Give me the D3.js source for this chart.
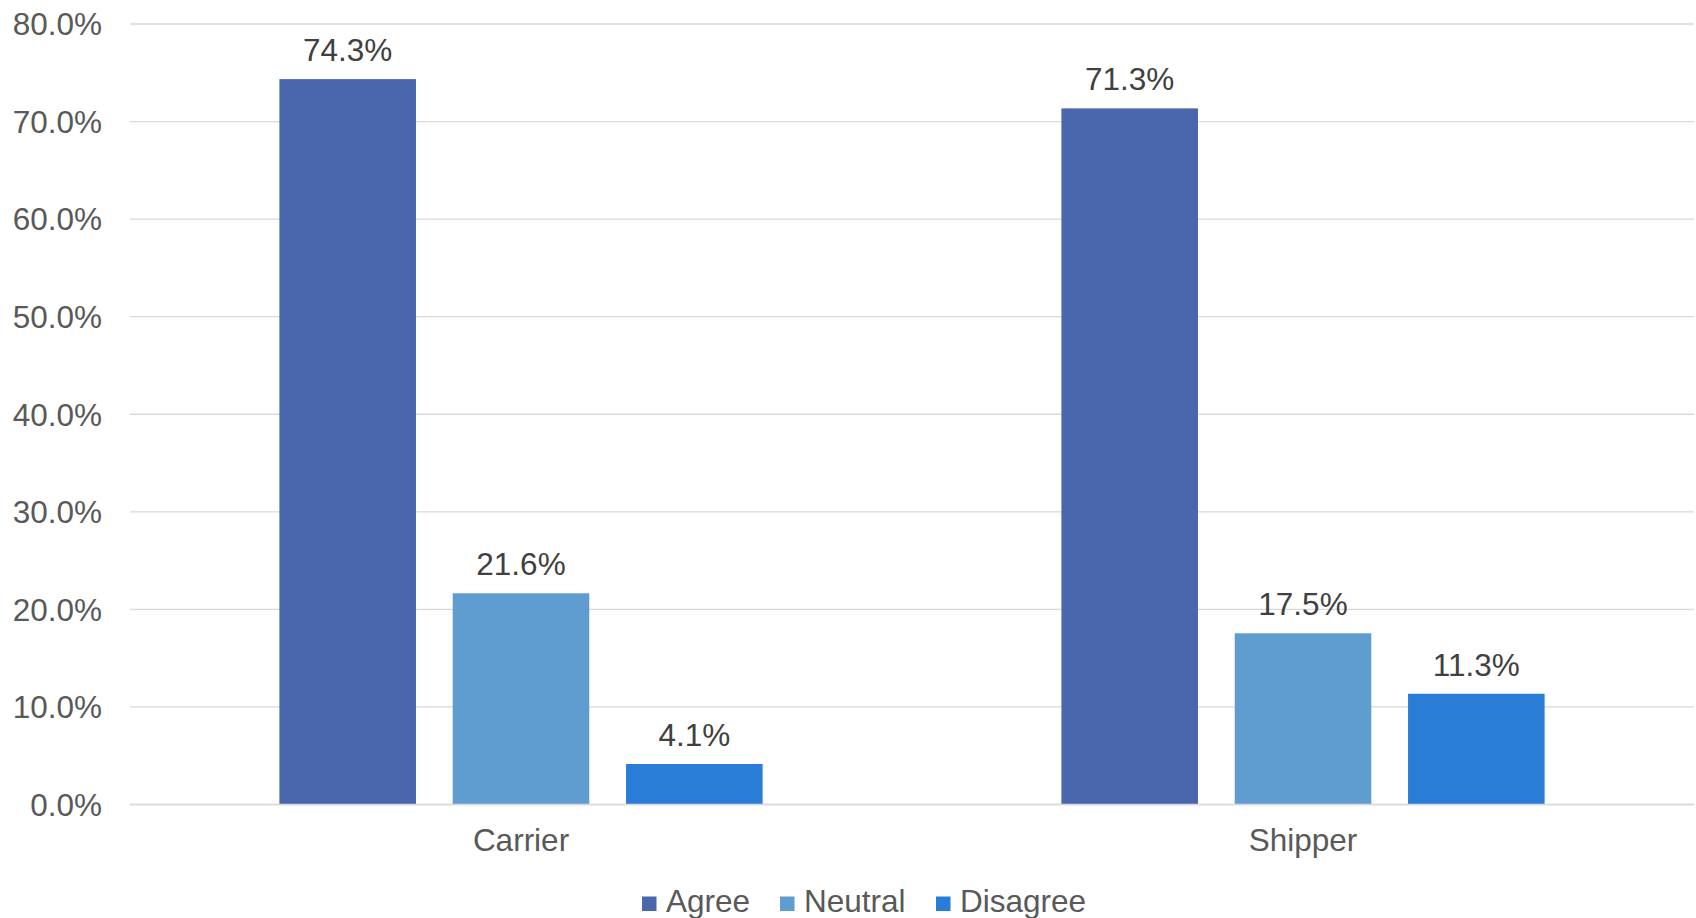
<!DOCTYPE html>
<html>
<head>
<meta charset="utf-8">
<script src="https://cdn.jsdelivr.net/npm/d3@7"></script>
<style>
  html, body { margin: 0; padding: 0; background: #fff; }
  svg { display: block; font-family: "Liberation Sans", Arial, sans-serif; }
</style>
</head>
<body>
<svg id="chart" width="1696" height="918"></svg>
<script>
// Survey responses by respondent group (percent)
const categories = ["Carrier", "Shipper"];
const seriesNames = ["Agree", "Neutral", "Disagree"];
const agree = [74.3, 71.3];
const neutral = [21.6, 17.5];
const disagree = [4.1, 11.3];
const yTicks = [0, 10, 20, 30, 40, 50, 60, 70, 80];
const colors = ["#4A66AC", "#5F9DD1", "#2A7DD6"];

const seriesValues = [agree, neutral, disagree];
const FONT = "31.5px";

const svg = d3.select("#chart");
const margin = { left: 130, right: 2, top: 23.5, bottom: 114 };
const W = 1696, H = 918;
const plotBottom = H - margin.bottom;

const x0 = d3.scaleBand()
  .domain(categories)
  .range([margin.left, W - margin.right])
  .padding(0);

const x1 = d3.scaleBand()
  .domain(seriesNames)
  .range([0, x0.bandwidth()])
  .paddingInner(0.212)
  .paddingOuter(0.862);

const y = d3.scaleLinear()
  .domain([0, 80])
  .range([plotBottom, margin.top]);

// Horizontal gridlines with percent labels
const yAxis = d3.axisLeft(y)
  .tickValues(yTicks)
  .tickSize(-(W - margin.right - margin.left))
  .tickFormat(d => d.toFixed(1) + "%")
  .tickPadding(28);

const gy = svg.append("g")
  .attr("transform", `translate(${margin.left},0)`)
  .call(yAxis);
gy.select(".domain").remove();
gy.selectAll(".tick line").attr("stroke", "#d9d9d9").attr("stroke-width", 1.3);
gy.selectAll(".tick text")
  .attr("fill", "#595959")
  .attr("font-size", FONT)
  .attr("dy", "0.36em");

// Bars
const groups = svg.append("g").selectAll("g")
  .data(categories)
  .join("g")
  .attr("transform", d => `translate(${x0(d)},0)`);

const cellData = (c, ci) => seriesNames.map((s, si) => ({ s, si, v: seriesValues[si][ci] }));

groups.selectAll("rect")
  .data(cellData)
  .join("rect")
  .attr("x", d => x1(d.s))
  .attr("width", x1.bandwidth())
  .attr("y", d => y(d.v))
  .attr("height", d => plotBottom - y(d.v))
  .attr("fill", d => colors[d.si]);

groups.selectAll("text.val")
  .data(cellData)
  .join("text")
  .attr("class", "val")
  .attr("x", d => x1(d.s) + x1.bandwidth() / 2)
  .attr("y", d => y(d.v) - 18)
  .attr("text-anchor", "middle")
  .attr("fill", "#404040")
  .attr("font-size", FONT)
  .text(d => d.v.toFixed(1) + "%");

// Category axis
const xAxis = d3.axisBottom(x0).tickSize(0).tickPadding(0);
const gx = svg.append("g")
  .attr("transform", `translate(0,${plotBottom})`)
  .call(xAxis);
gx.select(".domain").attr("stroke", "#d9d9d9").attr("stroke-width", 1.3);
gx.selectAll(".tick text")
  .attr("fill", "#595959")
  .attr("font-size", FONT)
  .attr("dy", null)
  .attr("y", 47);

// Legend
const legendItems = [
  { name: "Agree", x: 642 },
  { name: "Neutral", x: 780 },
  { name: "Disagree", x: 936 }
];
const legend = svg.append("g");
legendItems.forEach((it, i) => {
  legend.append("rect")
    .attr("x", it.x).attr("y", 896.5)
    .attr("width", 14.5).attr("height", 14.5)
    .attr("fill", colors[i]);
  legend.append("text")
    .attr("x", it.x + 24).attr("y", 912)
    .attr("fill", "#595959")
    .attr("font-size", FONT)
    .text(it.name);
});
</script>
</body>
</html>
